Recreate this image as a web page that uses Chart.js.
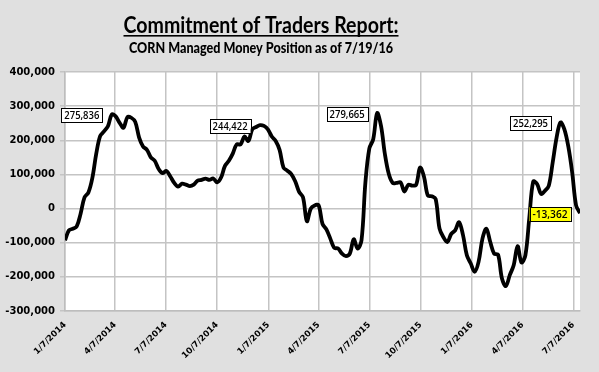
<!DOCTYPE html>
<html>
<head>
<meta charset="utf-8">
<script src="https://cdn.jsdelivr.net/npm/chart.js@4.4.1/dist/chart.umd.min.js"></script>
<style>
  html, body { margin: 0; padding: 0; background: #e0e0e0; }
  #cotChart { display: block; }
</style>
</head>
<body>
<canvas id="cotChart" width="599" height="372"></canvas>
<script>
// weekly report dates start here (every Tuesday)
const startDate = '1/7/2014';

// managed money net position, one per week from 1/7/2014 to 7/19/2016
const netPosition = [
    -93000, -64000, -59000, -52000, -15000, 33000, 47000, 89000, 160000, 212000,
    226000, 241000, 275836, 270000, 251000, 237000, 268000, 266000, 254000, 208000,
    182000, 172000, 150000, 140000, 116000, 104000, 110000, 94000, 75000, 64000,
    73000, 70000, 66000, 70000, 82000, 84000, 88000, 84000, 88000, 77000,
    91000, 125000, 140000, 161000, 188000, 188000, 211000, 198000, 232000, 239000,
    244422, 242000, 232000, 211000, 198000, 172000, 120000, 111000, 101000, 80000,
    49000, 33000, -37000, 0, 9000, 10000, -45000, -61000, -88000, -115000,
    -117000, -132000, -139000, -132000, -90000, -117000, -93000, 77000, 176000, 203000,
    279665, 242000, 159000, 101000, 75000, 75000, 77000, 50000, 70000, 67000,
    70000, 120000, 94000, 38000, 36000, 28000, -59000, -84000, -98000, -74000,
    -64000, -40000, -77000, -137000, -161000, -185000, -156000, -88000, -59000, -98000,
    -132000, -135000, -205000, -227000, -195000, -166000, -110000, -158000, -137000, -28000,
    79000, 72000, 43000, 52000, 67000, 135000, 208000, 252295, 232000, 182000,
    106000, 9000, -13362
];

// weeks that get a value box
const labelWeeks = [12, 50, 80, 127, 132];
const labelFill = ['#ffffff', '#ffffff', '#ffffff', '#ffffff', '#ffff00'];

const xTickLabels = ['1/7/2014', '4/7/2014', '7/7/2014', '10/7/2014', '1/7/2015', '4/7/2015',
    '7/7/2015', '10/7/2015', '1/7/2016', '4/7/2016', '7/7/2016'];
const yTicks = [-300000, -200000, -100000, 0, 100000, 200000, 300000, 400000];

const titleText = 'Commitment of Traders Report:';
const subtitleText = 'CORN Managed Money Position as of 7/19/16';

function toDay(s) {
    const p = s.split('/').map(Number);
    return Date.UTC(p[2], p[0] - 1, p[1]) / 86400000;
}
const day0 = toDay(startDate);
const tickDays = xTickLabels.map(s => toDay(s) - day0);
const points = netPosition.map((v, i) => ({ x: i * 7, y: v }));
const fmt = v => Number(v).toLocaleString('en-US');

const backdrop = {
    id: 'backdrop',
    beforeDraw(chart) {
        const { ctx, chartArea: a } = chart;
        ctx.save();
        ctx.fillStyle = '#e0e0e0';
        ctx.fillRect(0, 0, chart.width, chart.height);
        ctx.fillStyle = '#ffffff';
        ctx.fillRect(a.left, a.top, a.right - a.left, a.bottom - a.top);
        ctx.restore();
    }
};

const titles = {
    id: 'titles',
    afterDraw(chart) {
        const ctx = chart.ctx;
        const cx = 261;
        ctx.save();
        ctx.fillStyle = '#000';
        ctx.textAlign = 'center';
        ctx.textBaseline = 'alphabetic';
        ctx.font = 'bold 22px Lato';
        const w = Math.min(ctx.measureText(titleText).width, 275);
        ctx.fillText(titleText, cx, 33, 275);
        ctx.fillRect(cx - w / 2, 35, w, 1.6);
        ctx.font = '900 15px Lato';
        ctx.fillText(subtitleText, cx, 53, 264);
        ctx.restore();
    }
};

const valueBoxes = {
    id: 'valueBoxes',
    afterDatasetsDraw(chart) {
        const ctx = chart.ctx;
        const meta = chart.getDatasetMeta(0);
        ctx.save();
        ctx.font = '600 11px "Open Sans"';
        ctx.textAlign = 'center';
        ctx.textBaseline = 'middle';
        labelWeeks.forEach((wk, k) => {
            const pt = meta.data[wk];
            const cx = pt.x - 30, cy = pt.y + 1;
            const bw = 41, bh = 14;
            ctx.fillStyle = labelFill[k];
            ctx.fillRect(cx - bw / 2, cy - bh / 2, bw, bh);
            ctx.strokeStyle = '#000';
            ctx.lineWidth = 1;
            ctx.strokeRect(Math.round(cx - bw / 2) + 0.5, Math.round(cy - bh / 2) + 0.5, bw, bh);
            ctx.fillStyle = '#000';
            ctx.fillText(fmt(netPosition[wk]), cx, cy + 0.5, 35);
        });
        ctx.restore();
    }
};

new Chart(document.getElementById('cotChart'), {
    type: 'line',
    data: {
        datasets: [{
            data: points,
            borderColor: '#000',
            borderWidth: 3.8,
            pointRadius: 0,
            tension: 0.35,
            fill: false
        }]
    },
    options: {
        responsive: false,
        animation: false,
        layout: { padding: { top: 72, right: 19, bottom: 0, left: 0 } },
        plugins: {
            legend: { display: false },
            tooltip: { enabled: false }
        },
        scales: {
            x: {
                type: 'linear',
                min: 0,
                max: (netPosition.length - 1) * 7,
                afterBuildTicks: s => { s.ticks = tickDays.map(v => ({ value: v })); },
                afterFit: s => { s.height = 61; },
                grid: { color: '#c4c4c4', lineWidth: 1.5, drawTicks: false },
                border: { color: '#bdbdbd', width: 1.5 },
                ticks: {
                    autoSkip: false,
                    maxRotation: 45,
                    minRotation: 45,
                    padding: 9,
                    color: '#000',
                    font: { family: 'DejaVu Sans', size: 8.5, weight: 'bold' },
                    callback: v => xTickLabels[tickDays.indexOf(v)] || ''
                }
            },
            y: {
                min: yTicks[0],
                max: yTicks[yTicks.length - 1],
                afterBuildTicks: s => { s.ticks = yTicks.map(v => ({ value: v })); },
                afterFit: s => { s.width = 65; },
                grid: { color: '#c4c4c4', lineWidth: 1.5, tickLength: 5 },
                border: { color: '#bdbdbd', width: 1.5 },
                ticks: {
                    padding: 5,
                    color: '#000',
                    font: { family: 'DejaVu Sans', size: 10, weight: 'bold' },
                    callback: v => fmt(v)
                }
            }
        }
    },
    plugins: [backdrop, titles, valueBoxes]
});
</script>
</body>
</html>
